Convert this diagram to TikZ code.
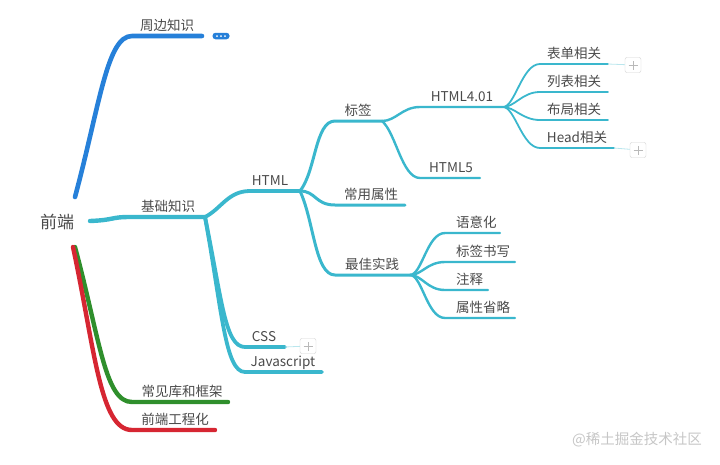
\documentclass[tikz,border=0pt]{standalone}
\usepackage{fontspec}
\setmainfont{Noto Sans CJK SC}
\usepackage{xcolor}
\definecolor{mmblue}{HTML}{2680D9}
\definecolor{mmcyan}{HTML}{3AB7CD}
\definecolor{mmgreen}{HTML}{2F8F2C}
\definecolor{mmred}{HTML}{D62632}
\definecolor{mmtext}{HTML}{4A4A4A}

\begin{document}
\begin{tikzpicture}[x=1pt,y=-1pt,
  lbl/.style={anchor=base, text=mmtext, inner sep=0pt, font=\fontsize{13.5}{16}\selectfont},
  lvl/.style={line cap=round, line width=#1},
  plusbox/.style={draw=gray!35, fill=white, rounded corners=2pt, minimum width=16pt,
    minimum height=15pt, inner sep=0pt,
    path picture={\draw[gray!55, line width=0.7pt]
      ([xshift=-4.5pt]path picture bounding box.center) -- ([xshift=4.5pt]path picture bounding box.center)
      ([yshift=-4.5pt]path picture bounding box.center) -- ([yshift=4.5pt]path picture bounding box.center);}}]
  \useasboundingbox (0,0) rectangle (720,464);

  % root
  \node[text=mmtext, font=\fontsize{17}{20}\selectfont, inner sep=0pt] (root) at (57,222) {前端};
  \coordinate (root-up) at (75,197);
  \coordinate (root-rt) at (90,221);
  \coordinate (root-dn) at (75,247);
  \coordinate (root-dn2) at (73,247);

  % first level
  \coordinate (zb-s) at (132,36);  \coordinate (zb-e) at (202,36);
  \coordinate (jc-s) at (130,217); \coordinate (jc-e) at (205,217);
  \coordinate (ck-s) at (132,402); \coordinate (ck-e) at (228,402);
  \coordinate (gc-s) at (132,430); \coordinate (gc-e) at (215,430);
  \draw[lvl=4.6pt, mmblue] (root-up) .. controls +(25,-93) and +(-25,0) .. (zb-s) -- (zb-e);
  \draw[lvl=4.4pt, mmcyan] (root-rt) .. controls +(25,-1) and +(-20,0) .. (jc-s) -- (jc-e);
  \draw[lvl=4.4pt, mmgreen] (root-dn) .. controls +(25,93) and +(-27,0) .. (ck-s) -- (ck-e);
  \draw[lvl=4.4pt, mmred] (root-dn2) .. controls +(22,103) and +(-32,0) .. (gc-s) -- (gc-e);
  \node[lbl] (zb) at (167,30) {周边知识};
  \node[lbl] (jc) at (168,211) {基础知识};
  \node[lbl] (ck) at (182,396) {常见库和框架};
  \node[lbl] (gc) at (175,424) {前端工程化};
  \node[fill=mmblue, rounded corners=3pt, minimum width=17pt, minimum height=6.5pt, inner sep=0pt] (more) at (221,36) {};
  \foreach \dx in {-4,0,4}
    \fill[white] ([xshift=\dx pt]more.center) circle (1pt);

  % HTML / CSS / Javascript
  \coordinate (html-s) at (250,191); \coordinate (html-e) at (300,191);
  \coordinate (css-s) at (245,347);  \coordinate (css-e) at (285,347);
  \coordinate (js-s) at (245,372);   \coordinate (js-e) at (322,372);
  \draw[lvl=3.8pt, mmcyan] (jc-e) .. controls +(16,-8) and +(-22,0) .. (html-s) -- (html-e);
  \draw[lvl=3.8pt, mmcyan] (jc-e) .. controls +(17,83) and +(-20,0) .. (css-s) -- (css-e);
  \draw[lvl=3.8pt, mmcyan] (jc-e) .. controls +(17,93) and +(-20,0) .. (js-s) -- (js-e);
  \node[lbl] (html) at (270,185) {HTML};
  \node[lbl] (css) at (264,341) {CSS};
  \node[lbl] (js) at (283,366) {Javascript};
  \node[plusbox] (p3) at (308,346) {};
  \draw[mmcyan!35, line width=0.8pt] (css-e) -- (p3);

  % under HTML
  \coordinate (bq-s) at (335,121); \coordinate (bq-e) at (382,121);
  \coordinate (cy-s) at (335,205); \coordinate (cy-e) at (405,205);
  \coordinate (zj-s) at (335,275); \coordinate (zj-e) at (410,275);
  \draw[lvl=3pt, mmcyan] (html-e) .. controls +(16,-20) and +(-20,0) .. (bq-s) -- (bq-e);
  \draw[lvl=3pt, mmcyan] (html-e) .. controls +(16,0) and +(-20,0) .. (cy-s) -- (cy-e);
  \draw[lvl=3pt, mmcyan] (html-e) .. controls +(14,30) and +(-20,0) .. (zj-s) -- (zj-e);
  \node[lbl] (bq) at (358,115) {标签};
  \node[lbl] (cy) at (371,199) {常用属性};
  \node[lbl] (zj) at (372,269) {最佳实践};

  % under 标签
  \coordinate (h4-s) at (420,107); \coordinate (h4-e) at (503,107);
  \coordinate (h5-s) at (420,178); \coordinate (h5-e) at (480,178);
  \draw[lvl=2.4pt, mmcyan] (bq-e) .. controls +(14,0) and +(-18,0) .. (h4-s) -- (h4-e);
  \draw[lvl=2.4pt, mmcyan] (bq-e) .. controls +(14,12) and +(-18,0) .. (h5-s) -- (h5-e);
  \node[lbl] (h4) at (462,101) {HTML4.01};
  \node[lbl] (h5) at (451,172) {HTML5};

  % leaves of HTML4.01
  \foreach \n/\y/\e/\t in {bd/64/608/表单相关, lb/92/608/列表相关, bj/120/608/布局相关, hd/148/614/Head相关}{
    \coordinate (\n-s) at (540,\y);
    \coordinate (\n-e) at (\e,\y);
    \draw[lvl=1.8pt, mmcyan] (h4-e) .. controls +(12,0) and +(-18,0) .. (\n-s) -- (\n-e);
    \node[lbl] (\n) at ({(540+\e)/2},\y-6) {\t};
  }
  \node[plusbox] (p1) at (633,65) {};
  \node[plusbox] (p2) at (638,150) {};
  \draw[mmcyan!35, line width=0.8pt] (bd-e) -- (p1);
  \draw[mmcyan!35, line width=0.8pt] (hd-e) -- (p2);

  % leaves of 最佳实践
  \foreach \n/\y/\e/\t in {yy/233/500/语意化, sx/262/515/标签书写, zs/290/488/注释, sl/318/515/属性省略}{
    \coordinate (\n-s) at (445,\y);
    \coordinate (\n-e) at (\e,\y);
    \draw[lvl=2.4pt, mmcyan] (zj-e) .. controls +(12,0) and +(-18,0) .. (\n-s) -- (\n-e);
    \node[lbl, anchor=base west] (\n) at (456,\y-6) {\t};
  }

  % watermark
  \node[text=gray!45, font=\fontsize{14.5}{17}\selectfont, inner sep=0pt] (wm) at (637,440) {@稀土掘金技术社区};
\end{tikzpicture}
\end{document}
